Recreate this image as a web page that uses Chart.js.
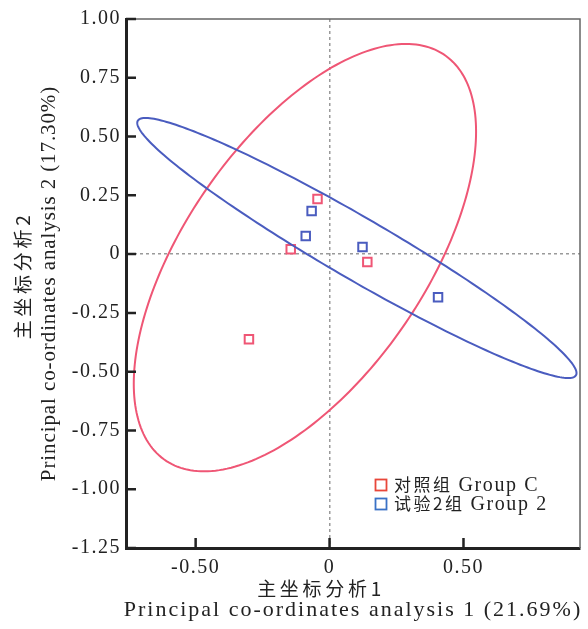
<!DOCTYPE html>
<html>
<head>
<meta charset="utf-8">
<script src="https://cdn.jsdelivr.net/npm/chart.js@4.4.1/dist/chart.umd.min.js"></script>
<style>
  html, body { margin: 0; padding: 0; background: #fff; }
  canvas { display: block; }
</style>
</head>
<body>
<canvas id="pcoa" width="588" height="629"></canvas>
<script>
// data
const groupNames = ['对照组 Group C', '试验2组 Group 2'];
const groupC_x = [-0.045, -0.145, 0.141, -0.301];
const groupC_y = [0.234, 0.021, -0.034, -0.362];
const group2_x = [-0.067, -0.089, 0.123, 0.405];
const group2_y = [0.183, 0.077, 0.030, -0.183];
// ellipse: centre x, centre y, half width (x), half height (y), correlation
const groupC_ellipse = [-0.092, -0.015, 0.639, 0.909, 0.59];
const group2_ellipse = [0.102, 0.026, 0.820, 0.553, -0.962];

const xTickValues = [-0.5, 0, 0.5];
const yTickValues = [1, 0.75, 0.5, 0.25, 0, -0.25, -0.5, -0.75, -1, -1.25];
const xTitle = ['主坐标分析1', 'Principal co-ordinates analysis 1 (21.69%)'];
const yTitle = ['主坐标分析2', 'Principal co-ordinates analysis 2 (17.30%)'];

const RED = '#ef5675';
const BLUE = '#4a5cbf';
const SERIF = '"Liberation Serif", "Noto Sans CJK SC", serif';
const CJK = '"Noto Sans CJK SC", sans-serif';
const INK = '#222';

function toPoints(xs, ys) {
  return xs.map((v, i) => ({ x: v, y: ys[i] }));
}

function tickLabel(v) {
  return v === 0 ? '0' : v.toFixed(2);
}

function spacedText(ctx, text, x, y, font, spacing, align) {
  ctx.font = font;
  ctx.letterSpacing = spacing + 'px';
  ctx.textAlign = align || 'center';
  ctx.textBaseline = 'middle';
  ctx.fillText(text, x, y);
}

const ellipsePlugin = {
  id: 'ellipses',
  afterDatasetsDraw(chart) {
    const { ctx, chartArea, scales: { x, y } } = chart;
    ctx.save();
    ctx.beginPath();
    ctx.rect(chartArea.left, chartArea.top, chartArea.width, chartArea.height);
    ctx.clip();
    chart.data.datasets.forEach(ds => {
      const [cx, cy, rx, ry, rho] = ds.ellipse;
      const k = Math.sqrt(1 - rho * rho);
      ctx.beginPath();
      for (let i = 0; i <= 240; i++) {
        const t = i / 240 * 2 * Math.PI;
        const px = x.getPixelForValue(cx + rx * Math.cos(t));
        const py = y.getPixelForValue(cy + ry * (rho * Math.cos(t) + k * Math.sin(t)));
        if (i === 0) ctx.moveTo(px, py); else ctx.lineTo(px, py);
      }
      ctx.closePath();
      ctx.lineWidth = 2;
      ctx.strokeStyle = ds.borderColor;
      ctx.stroke();
    });
    ctx.restore();
  }
};

const framePlugin = {
  id: 'frame',
  beforeDraw(chart) {
    // tick labels in the figure are letter-spaced
    chart.ctx.letterSpacing = '1.5px';
  },
  afterDraw(chart) {
    const { ctx, chartArea: a, scales: { x, y } } = chart;
    ctx.save();
    // thin top / right frame
    ctx.strokeStyle = '#666';
    ctx.lineWidth = 1.5;
    ctx.beginPath();
    ctx.moveTo(a.left, a.top);
    ctx.lineTo(a.right, a.top);
    ctx.lineTo(a.right, a.bottom);
    ctx.stroke();
    // inward tick marks
    ctx.strokeStyle = INK;
    ctx.lineWidth = 2.5;
    ctx.beginPath();
    yTickValues.forEach(v => {
      const py = y.getPixelForValue(v);
      ctx.moveTo(a.left, py);
      ctx.lineTo(a.left + 10, py);
    });
    xTickValues.forEach(v => {
      const px = x.getPixelForValue(v);
      ctx.moveTo(px, a.bottom);
      ctx.lineTo(px, a.bottom - 10);
    });
    ctx.stroke();

    // axis titles
    ctx.fillStyle = INK;
    const cx = (a.left + a.right) / 2;
    const cy = (a.top + a.bottom) / 2;
    spacedText(ctx, xTitle[0], cx - 32, 589, '19px ' + CJK, 3.7);
    spacedText(ctx, xTitle[1], cx, 610, '22px ' + SERIF, 2);
    ctx.save();
    ctx.translate(23, cy - 8);
    ctx.rotate(-Math.PI / 2);
    spacedText(ctx, yTitle[0], 0, 0, '19px ' + CJK, 3.7);
    ctx.restore();
    ctx.save();
    ctx.translate(49, cy);
    ctx.rotate(-Math.PI / 2);
    spacedText(ctx, yTitle[1], 0, 0, '21px ' + SERIF, 0.9);
    ctx.restore();

    // legend in the lower right corner
    const lx = a.right - 199;
    const ly = a.bottom - 63;
    const boxColors = ['#e8473a', '#3a72c6'];
    chart.data.datasets.forEach((ds, i) => {
      const ry = ly + i * 19;
      ctx.strokeStyle = boxColors[i];
      ctx.lineWidth = 1.8;
      ctx.strokeRect(lx - 5.5, ry - 5.5, 11, 11);
      const sp = ds.label.indexOf(' ');
      const zh = ds.label.slice(0, sp);
      const en = ds.label.slice(sp + 1);
      ctx.fillStyle = INK;
      spacedText(ctx, zh, lx + 13, ry, '17px ' + CJK, 2.5, 'left');
      const w = ctx.measureText(zh).width;
      spacedText(ctx, en, lx + 13 + w + 6, ry + 1, '20px ' + SERIF, 1.6, 'left');
    });
    ctx.restore();
  }
};

const zeroGrid = {
  color: c => (c.tick && c.tick.value === 0 ? '#9a9a9a' : 'rgba(0,0,0,0)'),
  lineWidth: 1.5,
  drawTicks: false
};

new Chart(document.getElementById('pcoa'), {
  type: 'scatter',
  data: {
    datasets: [
      {
        label: groupNames[0],
        data: toPoints(groupC_x, groupC_y),
        borderColor: RED,
        backgroundColor: 'rgba(0,0,0,0)',
        ellipse: groupC_ellipse
      },
      {
        label: groupNames[1],
        data: toPoints(group2_x, group2_y),
        borderColor: BLUE,
        backgroundColor: 'rgba(0,0,0,0)',
        ellipse: group2_ellipse
      }
    ]
  },
  options: {
    responsive: false,
    animation: false,
    events: [],
    layout: { padding: { top: 19, right: 7, left: 0, bottom: 0 } },
    elements: {
      point: { pointStyle: 'rect', radius: 6, borderWidth: 2 }
    },
    plugins: {
      legend: { display: false },
      tooltip: { enabled: false }
    },
    scales: {
      x: {
        type: 'linear',
        min: -0.76,
        max: 0.935,
        afterBuildTicks: s => { s.ticks = xTickValues.map(v => ({ value: v })); },
        afterFit: s => { s.height = 81; },
        grid: zeroGrid,
        border: { color: INK, width: 3, dash: [3, 3] },
        ticks: {
          padding: 8,
          color: INK,
          font: { family: SERIF, size: 20 },
          callback: v => tickLabel(v)
        }
      },
      y: {
        type: 'linear',
        min: -1.25,
        max: 1,
        afterBuildTicks: s => { s.ticks = yTickValues.map(v => ({ value: v })); },
        afterFit: s => { s.width = 126; },
        grid: zeroGrid,
        border: { color: INK, width: 3, dash: [3, 3] },
        ticks: {
          padding: 5,
          color: INK,
          font: { family: SERIF, size: 20 },
          callback: v => tickLabel(v)
        }
      }
    }
  },
  plugins: [ellipsePlugin, framePlugin]
});
</script>
</body>
</html>
